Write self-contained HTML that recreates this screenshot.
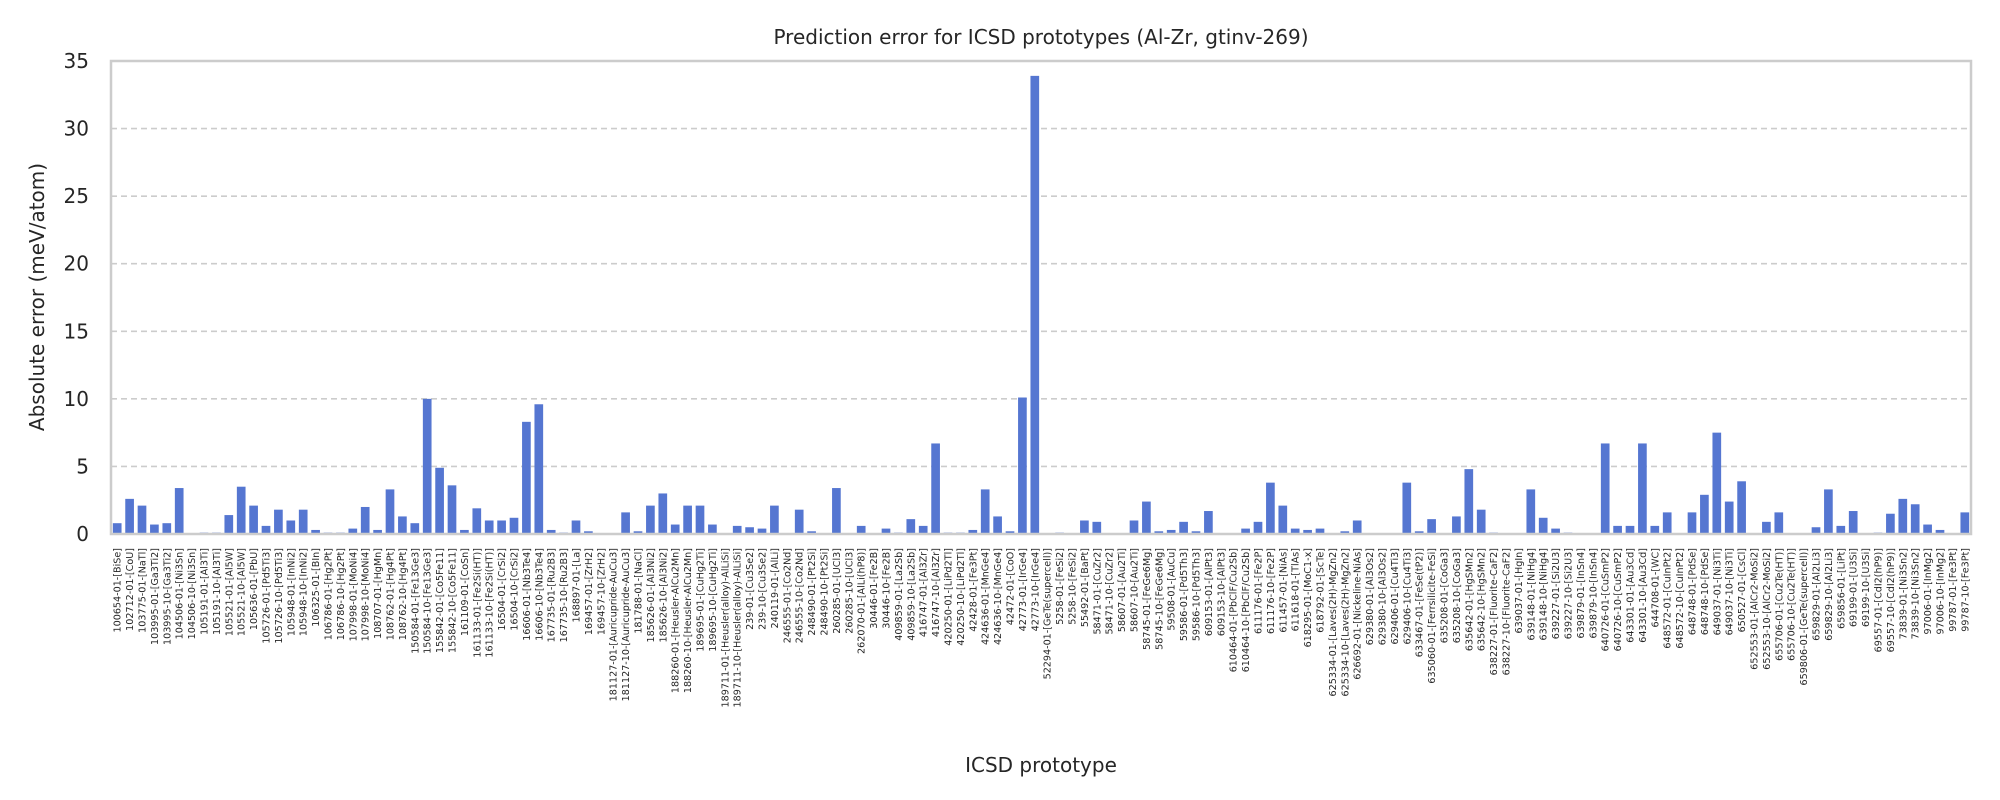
<!DOCTYPE html>
<html><head><meta charset="utf-8"><style>
html,body{margin:0;padding:0;background:#fff;}
svg{display:block;font-family:"DejaVu Sans","Liberation Sans",sans-serif;}
</style></head><body>
<svg id="chart" width="2000" height="800" viewBox="0 0 2000 800">
<text x="1041" y="44" font-size="20" text-anchor="middle" fill="#262626">Prediction error for ICSD prototypes (Al-Zr, gtinv-269)</text>
<text x="1041" y="772" font-size="20" text-anchor="middle" fill="#262626">ICSD prototype</text>
<text transform="translate(44,297) rotate(-90)" font-size="20" text-anchor="middle" fill="#262626">Absolute error (meV/atom)</text>
<g id="grid"></g><g id="bars"></g><g id="yt"></g><g id="xt"></g>
<rect x="111" y="61" width="1860" height="473" fill="none" stroke="#cccccc" stroke-width="2.5"/>
</svg>
<script>
const categories = ["100654-01-[BiSe]","102712-01-[CoU]","103775-01-[NaTl]","103995-01-[Ga3Ti2]","103995-10-[Ga3Ti2]","104506-01-[Ni3Sn]","104506-10-[Ni3Sn]","105191-01-[Al3Ti]","105191-10-[Al3Ti]","105521-01-[Al5W]","105521-10-[Al5W]","105636-01-[PbU]","105726-01-[Pd5Ti3]","105726-10-[Pd5Ti3]","105948-01-[InNi2]","105948-10-[InNi2]","106325-01-[BIn]","106786-01-[Hg2Pt]","106786-10-[Hg2Pt]","107998-01-[MoNi4]","107998-10-[MoNi4]","108707-01-[HgMn]","108762-01-[Hg4Pt]","108762-10-[Hg4Pt]","150584-01-[Fe13Ge3]","150584-10-[Fe13Ge3]","155842-01-[Co5Fe11]","155842-10-[Co5Fe11]","161109-01-[CoSn]","161133-01-[Fe2Si(HT)]","161133-10-[Fe2Si(HT)]","16504-01-[CrSi2]","16504-10-[CrSi2]","16606-01-[Nb3Te4]","16606-10-[Nb3Te4]","167735-01-[Ru2B3]","167735-10-[Ru2B3]","168897-01-[La]","169457-01-[ZrH2]","169457-10-[ZrH2]","181127-01-[Auricupride-AuCu3]","181127-10-[Auricupride-AuCu3]","181788-01-[NaCl]","185626-01-[Al3Ni2]","185626-10-[Al3Ni2]","188260-01-[Heusler-AlCu2Mn]","188260-10-[Heusler-AlCu2Mn]","189695-01-[CuHg2Ti]","189695-10-[CuHg2Ti]","189711-01-[Heusler(alloy)-AlLiSi]","189711-10-[Heusler(alloy)-AlLiSi]","239-01-[Cu3Se2]","239-10-[Cu3Se2]","240119-01-[AlLi]","246555-01-[Co2Nd]","246555-10-[Co2Nd]","248490-01-[Pt2Si]","248490-10-[Pt2Si]","260285-01-[UCl3]","260285-10-[UCl3]","262070-01-[AlLi(hP8)]","30446-01-[Fe2B]","30446-10-[Fe2B]","409859-01-[La2Sb]","409859-10-[La2Sb]","416747-01-[Al3Zr]","416747-10-[Al3Zr]","420250-01-[LiPd2Tl]","420250-10-[LiPd2Tl]","42428-01-[Fe3Pt]","424636-01-[MnGe4]","424636-10-[MnGe4]","42472-01-[CoO]","42773-01-[IrGe4]","42773-10-[IrGe4]","52294-01-[GeTe(supercell)]","5258-01-[FeSi2]","5258-10-[FeSi2]","55492-01-[BaPt]","58471-01-[CuZr2]","58471-10-[CuZr2]","58607-01-[Au2Ti]","58607-10-[Au2Ti]","58745-01-[FeGe6Mg]","58745-10-[FeGe6Mg]","59508-01-[AuCu]","59586-01-[Pd5Th3]","59586-10-[Pd5Th3]","609153-01-[AlPt3]","609153-10-[AlPt3]","610464-01-[PbClF/Cu2Sb]","610464-10-[PbClF/Cu2Sb]","611176-01-[Fe2P]","611176-10-[Fe2P]","611457-01-[NiAs]","611618-01-[TlAs]","618295-01-[MoC1-x]","618792-01-[ScTe]","625334-01-[Laves(2H)-MgZn2]","625334-10-[Laves(2H)-MgZn2]","626692-01-[Nickeline-NiAs]","629380-01-[Al3Os2]","629380-10-[Al3Os2]","629406-01-[Cu4Ti3]","629406-10-[Cu4Ti3]","633467-01-[FeSe(tP2)]","635060-01-[Ferrsilicite-FeSi]","635208-01-[CoGa3]","635208-10-[CoGa3]","635642-01-[HgSMn2]","635642-10-[HgSMn2]","638227-01-[Fluorite-CaF2]","638227-10-[Fluorite-CaF2]","639037-01-[HgIn]","639148-01-[NiHg4]","639148-10-[NiHg4]","639227-01-[Si2U3]","639227-10-[Si2U3]","639879-01-[InSn4]","639879-10-[InSn4]","640726-01-[CuSmP2]","640726-10-[CuSmP2]","643301-01-[Au3Cd]","643301-10-[Au3Cd]","644708-01-[WC]","648572-01-[CuInPt2]","648572-10-[CuInPt2]","648748-01-[PdSe]","648748-10-[PdSe]","649037-01-[Ni3Ti]","649037-10-[Ni3Ti]","650527-01-[CsCl]","652553-01-[AlCr2-MoSi2]","652553-10-[AlCr2-MoSi2]","655706-01-[Cu2Te(HT)]","655706-10-[Cu2Te(HT)]","659806-01-[GeTe(supercell)]","659829-01-[Al2Li3]","659829-10-[Al2Li3]","659856-01-[LiPt]","69199-01-[U3Si]","69199-10-[U3Si]","69557-01-[CdI2(hP9)]","69557-10-[CdI2(hP9)]","73839-01-[Ni3Sn2]","73839-10-[Ni3Sn2]","97006-01-[InMg2]","97006-10-[InMg2]","99787-01-[Fe3Pt]","99787-10-[Fe3Pt]"];
const errors = [0.8,2.6,2.1,0.7,0.8,3.4,0,0.1,0.1,1.4,3.5,2.1,0.6,1.8,1.0,1.8,0.3,0.1,0.1,0.4,2.0,0.3,3.3,1.3,0.8,10.0,4.9,3.6,0.3,1.9,1.0,1.0,1.2,8.3,9.6,0.3,0.1,1.0,0.2,0.05,0,1.6,0.2,2.1,3.0,0.7,2.1,2.1,0.7,0,0.6,0.5,0.4,2.1,0,1.8,0.2,0,3.4,0,0.6,0,0.4,0.1,1.1,0.6,6.7,0.1,0.1,0.3,3.3,1.3,0.2,10.1,33.9,0,0.1,0,1.0,0.9,0,0,1.0,2.4,0.2,0.3,0.9,0.2,1.7,0,0,0.4,0.9,3.8,2.1,0.4,0.3,0.4,0,0.2,1.0,0,0,0,3.8,0.2,1.1,0,1.3,4.8,1.8,0.1,0,0,3.3,1.2,0.4,0.1,0,0,6.7,0.6,0.6,6.7,0.6,1.6,0,1.6,2.9,7.5,2.4,3.9,0,0.9,1.6,0,0,0.5,3.3,0.6,1.7,0,0.1,1.5,2.6,2.2,0.7,0.3,0,1.6];
const yTicks = [0,5,10,15,20,25,30,35];

const NS="http://www.w3.org/2000/svg";
const X0=111,X1=1971,Y0=534,Y1=61,YMAX=35;
const slot=(X1-X0)/categories.length;
const xPos=i=>X0+slot*(i+0.5);
const yPos=v=>Y0-(v/YMAX)*(Y0-Y1);
function mk(tag,attrs,parent){const e=document.createElementNS(NS,tag);for(const k in attrs)e.setAttribute(k,attrs[k]);parent.appendChild(e);return e;}
const grid=document.getElementById('grid'),yt=document.getElementById('yt'),bars=document.getElementById('bars'),xt=document.getElementById('xt');
yTicks.forEach(t=>{
  const y=yPos(t);
  if(t>0&&t<YMAX){const g=mk('line',{x1:X0,x2:X1,y1:y,y2:y,stroke:'#cccccc','stroke-width':1.6,'stroke-dasharray':'6,4'},grid);
  
  }
  const tx=mk('text',{x:X0-22,y:y+7,'font-size':20,'text-anchor':'end',fill:'#262626'},yt);
  tx.textContent=t;
  
  
});
const bw=slot*0.7;
errors.forEach((v,i)=>{
  const y=yPos(v);
  const r=mk('rect',{x:xPos(i)-bw/2,y:y,width:bw,height:Math.max(0,Y0-y),fill:'#5576d1'},bars);
  
  
});
categories.forEach((c,i)=>{
  const x=xPos(i)+3.5;
  const t=mk('text',{transform:`translate(${x},548) rotate(-90)`,'font-size':9.6,'text-anchor':'end',fill:'#262626'},xt);
  t.textContent=c;
  
  
});
</script>
</body></html>
